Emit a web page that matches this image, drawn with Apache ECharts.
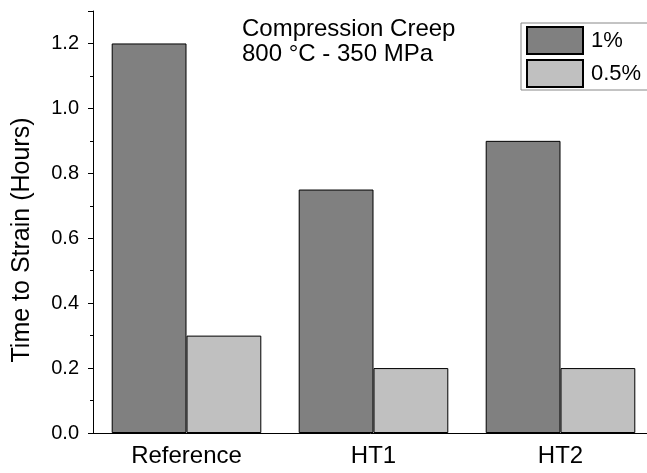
<!DOCTYPE html>
<html>
<head>
<meta charset="utf-8">
<script src="https://cdn.jsdelivr.net/npm/echarts@6/dist/echarts.min.js"></script>
<style>
  html, body { margin: 0; padding: 0; background: #fff; }
  #chart { width: 647px; height: 473px; }
</style>
</head>
<body>
<div id="chart"></div>
<script>
const categories = ['Reference', 'HT1', 'HT2']
const strain1 = [1.2, 0.75, 0.9]
const strain05 = [0.3, 0.2, 0.2]
const seriesNames = ['1%', '0.5%']
const noteLines = ['Compression Creep', '800 °C - 350 MPa']

const font = 'Arial, "Liberation Sans", sans-serif'
const chart = echarts.init(document.getElementById('chart'))

chart.setOption({
  animation: false,
  textStyle: { fontFamily: font },
  // plot runs past the right edge of the picture, like the original
  grid: { left: 93, width: 561, top: 11, bottom: 40, outerBoundsMode: 'none' },
  legend: {
    data: seriesNames,
    orient: 'vertical',
    left: 521,
    top: 23,
    padding: [3, 20, 2, 5],
    itemWidth: 56,
    itemHeight: 27,
    itemGap: 4,
    borderColor: '#888',
    borderWidth: 1,
    icon: 'rect',
    textStyle: { fontSize: 22, color: '#000', fontFamily: font, padding: [0, 0, 0, 3] }
  },
  graphic: [
    {
      type: 'text',
      left: 242,
      top: 17,
      style: {
        text: noteLines.join('\n'),
        font: '24px ' + font,
        lineHeight: 25,
        fill: '#000'
      }
    }
  ],
  xAxis: [
    {
      type: 'category',
      data: categories,
      axisLine: { lineStyle: { color: '#000', width: 1 } },
      axisTick: { alignWithLabel: true, length: 9, lineStyle: { color: '#000' } },
      axisLabel: { fontSize: 24, color: '#000', margin: 11, fontFamily: font }
    },
    {
      type: 'category',
      data: categories,
      position: 'bottom',
      axisLine: { show: false },
      axisTick: { length: 5, lineStyle: { color: '#000' } },
      axisLabel: { show: false }
    }
  ],
  yAxis: {
    type: 'value',
    min: 0,
    max: 1.3,
    interval: 0.2,
    name: 'Time to Strain (Hours)',
    nameLocation: 'middle',
    nameGap: 58,
    nameTextStyle: { fontSize: 25, color: '#000', fontFamily: font, padding: [0, 36, 0, 0] },
    axisLine: { show: true, lineStyle: { color: '#000', width: 1 } },
    axisTick: { show: true, length: 5, lineStyle: { color: '#000' } },
    minorTick: { show: true, splitNumber: 2, length: 3, lineStyle: { color: '#000' } },
    splitLine: { show: false },
    axisLabel: {
      fontSize: 20,
      color: '#000',
      margin: 14,
      showMaxLabel: false,
      fontFamily: font,
      formatter: (v) => v.toFixed(1)
    }
  },
  series: [
    {
      name: seriesNames[0],
      type: 'bar',
      data: strain1,
      barGap: '0%',
      barCategoryGap: '20%',
      itemStyle: { color: '#808080', borderColor: '#000', borderWidth: 1 }
    },
    {
      name: seriesNames[1],
      type: 'bar',
      data: strain05,
      itemStyle: { color: '#c0c0c0', borderColor: '#000', borderWidth: 1 }
    }
  ]
})
</script>
</body>
</html>
